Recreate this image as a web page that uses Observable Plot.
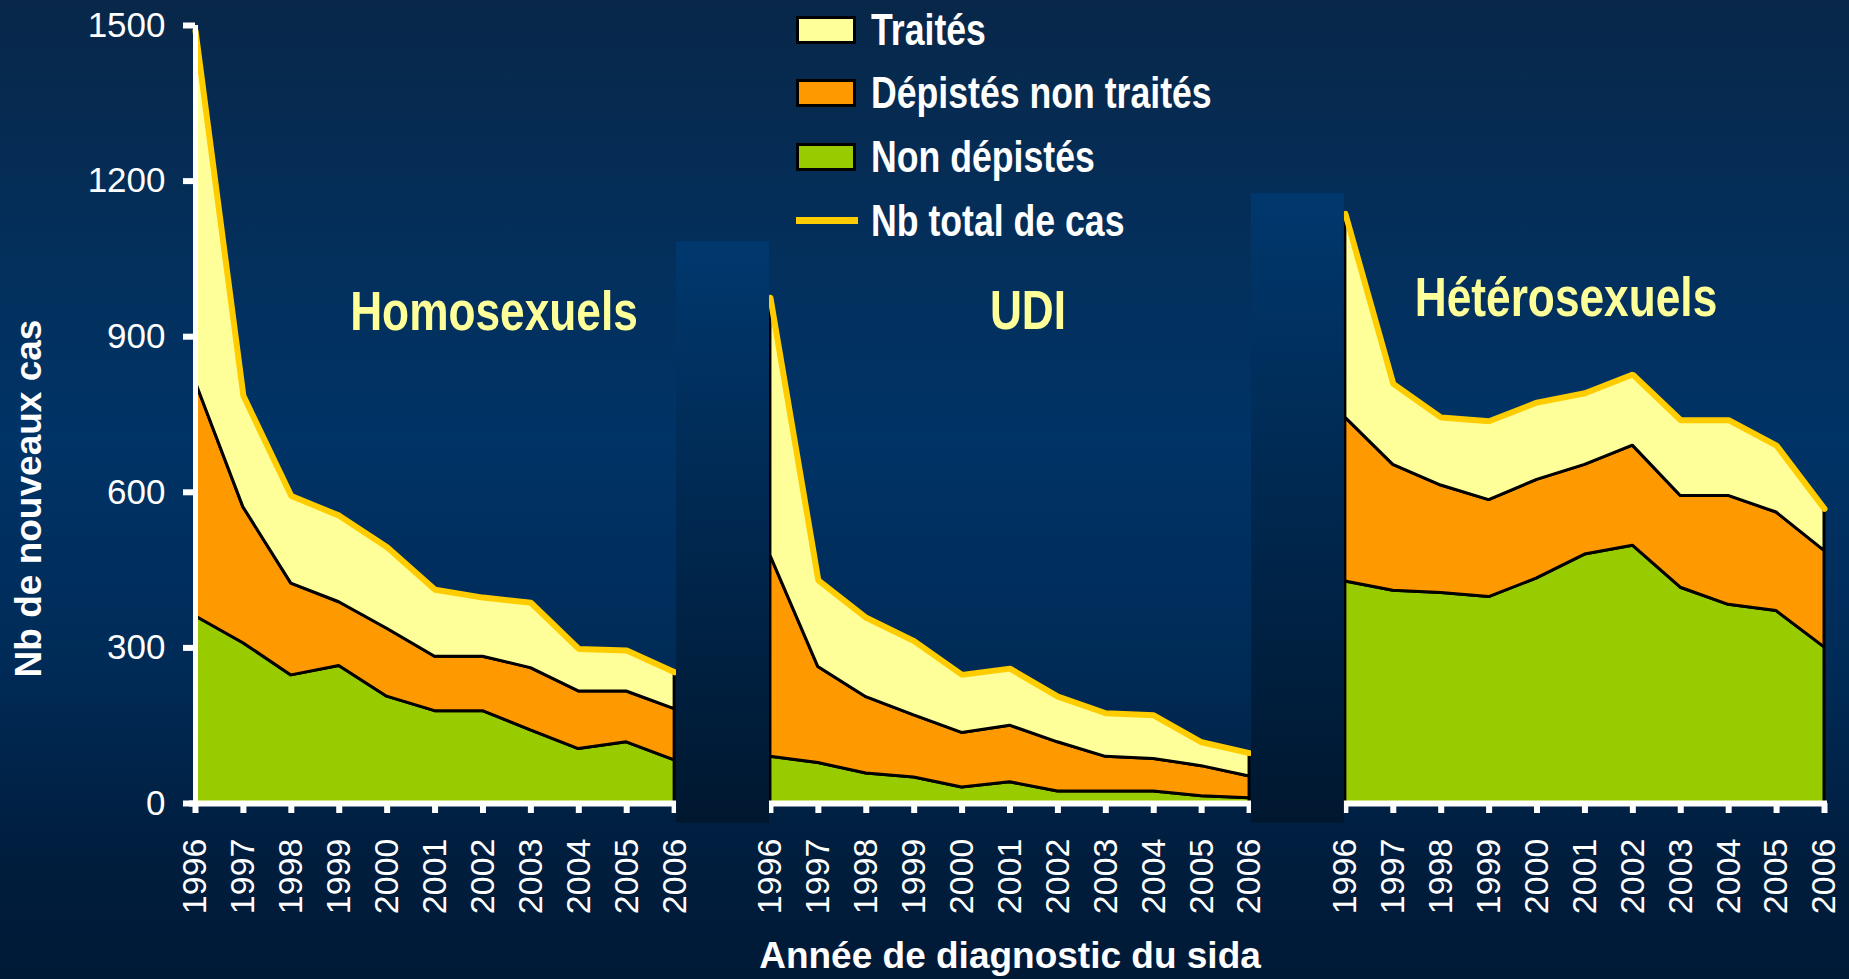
<!DOCTYPE html>
<html>
<head>
<meta charset="utf-8">
<script src="https://cdn.jsdelivr.net/npm/d3@7"></script>
<script src="https://cdn.jsdelivr.net/npm/@observablehq/plot@0.6"></script>
<style>
  html, body { margin: 0; padding: 0; }
  body {
    width: 1849px; height: 979px; overflow: hidden;
    background: linear-gradient(180deg, #082749 0%, #03305d 28%, #003366 45%, #002b57 68%, #001d3d 88%, #001a36 100%);
    font-family: "Liberation Sans", Arial, sans-serif;
  }
  #wrap { position: relative; width: 1849px; height: 979px; }
  #wrap svg { position: absolute; left: 0; top: 0; }
  .sw { position: absolute; box-sizing: border-box; border: 3px solid #000; width: 60px; height: 28px; left: 796px; }
  .swline { position: absolute; left: 796px; width: 62px; height: 7px; }
  .lt { position: absolute; left: 871px; font-size: 44px; line-height: 44px; font-weight: bold; color: #fff;
        white-space: nowrap; transform: scaleX(0.81); transform-origin: left center; }
  .gl { position: absolute; font-size: 56px; line-height: 56px; font-weight: bold; color: #ffff99;
        white-space: nowrap; transform: translateX(-50%) scaleX(0.79); }
</style>
</head>
<body>
<div id="wrap"></div>
<script>
// ---- data ----
const years = ["1996", "1997", "1998", "1999", "2000", "2001", "2002", "2003", "2004", "2005", "2006"];
const groups = ["Homosexuels", "UDI", "Hétérosexuels"];
const seriesNames = ["Non dépistés", "Dépistés non traités", "Traités"];
const totalName = "Nb total de cas";

const homoNonDepistes        = [361, 309, 247, 265, 206, 178, 178, 141, 105, 118, 83];
const homoDepistesNonTraites = [452, 262, 177, 123, 131, 105, 105, 120, 111, 98, 99];
const homoTraites            = [677, 215, 169, 167, 157, 129, 114, 126, 82, 79, 71];

const udiNonDepistes        = [90, 78, 58, 50, 31, 41, 23, 23, 23, 14, 10];
const udiDepistesNonTraites = [388, 185, 147, 120, 105, 109, 95, 67, 63, 58, 42];
const udiTraites            = [497, 167, 153, 143, 112, 110, 88, 84, 84, 46, 45];

const heteroNonDepistes        = [428, 410, 406, 398, 434, 480, 497, 416, 383, 371, 301];
const heteroDepistesNonTraites = [316, 243, 207, 187, 190, 173, 193, 177, 210, 190, 186];
const heteroTraites            = [393, 156, 131, 152, 149, 138, 137, 146, 146, 129, 81];

const yTicks = [0, 300, 600, 900, 1200, 1500];
const xTitle = "Année de diagnostic du sida";
const yTitle = "Nb de nouveaux cas";

const seriesColors = ["#99cc00", "#ff9900", "#ffff99"];
const totalColor = "#ffcc00";

// ---- build tables ----
const groupSeries = [
  [homoNonDepistes, homoDepistesNonTraites, homoTraites],
  [udiNonDepistes, udiDepistesNonTraites, udiTraites],
  [heteroNonDepistes, heteroDepistesNonTraites, heteroTraites]
];
const slot = years.length + 1; // one empty slot between groups
const rows = [];
const totals = [];
const tickPos = [];
const posYear = new Map();
groups.forEach((g, gi) => {
  years.forEach((yr, j) => {
    const pos = gi * slot + j;
    tickPos.push(pos);
    posYear.set(pos, yr);
    let sum = 0;
    seriesNames.forEach((s, si) => {
      const v = groupSeries[gi][si][j];
      sum += v;
      rows.push({group: g, year: yr, pos, series: s, key: g + "|" + s, value: v});
    });
    totals.push({group: g, year: yr, pos, total: sum});
  });
});
const gapSlots = [
  {pos: slot - 1, top: 1083},
  {pos: 2 * slot - 1, top: 1176}
];
const maxPos = groups.length * slot - 2;

const svg = Plot.plot({
  width: 1849,
  height: 979,
  marginLeft: 195,
  marginRight: 25,
  marginTop: 25,
  marginBottom: 176,
  x: {type: "linear", domain: [0, maxPos]},
  y: {domain: [0, 1500]},
  color: {domain: seriesNames, range: seriesColors},
  style: {background: "transparent", color: "white", fontFamily: "'Liberation Sans', Arial, sans-serif", overflow: "visible"},
  marks: [
    Plot.areaY(rows, {x: "pos", y: "value", z: "key", fill: "series", stroke: "black", strokeWidth: 3, strokeLinejoin: "miter"}),
    Plot.line(totals, {x: "pos", y: "total", z: "group", stroke: totalColor, strokeWidth: 6, strokeLinejoin: "miter"}),
    Plot.ruleY([0], {stroke: "white", strokeWidth: 6, insetLeft: -6, insetRight: -3}),
    Plot.ruleX([0], {y1: 0, y2: 1500, stroke: "white", strokeWidth: 5}),
    Plot.axisY({ticks: yTicks, tickFormat: d3.format("d"), tickSize: 12, tickPadding: 18, color: "white", strokeWidth: 6, fontSize: 35, label: null}),
    Plot.axisX({ticks: tickPos, tickFormat: p => posYear.get(p), tickRotate: -90, tickSize: 10, tickPadding: 25, color: "white", strokeWidth: 6, fontSize: 34, label: null}),
    Plot.rect(gapSlots, {x1: d => d.pos - 0.96, x2: d => d.pos + 0.98, y1: -38, y2: "top", fill: "url(#sepGrad)"}),
    Plot.text([yTitle], {frameAnchor: "left", textAnchor: "middle", lineAnchor: "middle", rotate: -90, dx: -166, dy: 84, fontSize: 37, fontWeight: "bold", fill: "white"}),
    Plot.text([xTitle], {frameAnchor: "bottom", textAnchor: "middle", lineAnchor: "middle", dy: 153, fontSize: 37, fontWeight: "bold", fill: "white"})
  ]
});

const defs = d3.select(svg).insert("defs", ":first-child");
const grad = defs.append("linearGradient").attr("id", "sepGrad").attr("x1", 0).attr("y1", 0).attr("x2", 0).attr("y2", 1);
grad.append("stop").attr("offset", "0%").attr("stop-color", "#00386e");
grad.append("stop").attr("offset", "100%").attr("stop-color", "#00172f");

const wrap = document.getElementById("wrap");
wrap.appendChild(svg);

// ---- legend (HTML overlay) ----
const legendOrder = [2, 1, 0];
const swTops = [16, 79, 143];
const textTops = [8, 71, 135, 199];
legendOrder.forEach((si, k) => {
  const sw = document.createElement("div");
  sw.className = "sw";
  sw.style.top = swTops[k] + "px";
  sw.style.background = seriesColors[si];
  wrap.appendChild(sw);
  const t = document.createElement("div");
  t.className = "lt";
  t.style.top = textTops[k] + "px";
  t.textContent = seriesNames[si];
  wrap.appendChild(t);
});
const ln = document.createElement("div");
ln.className = "swline";
ln.style.top = "217px";
ln.style.background = totalColor;
wrap.appendChild(ln);
const lt = document.createElement("div");
lt.className = "lt";
lt.style.top = textTops[3] + "px";
lt.textContent = totalName;
wrap.appendChild(lt);

// ---- group labels ----
const groupLabelPos = [[494, 283], [1028, 282], [1566, 269]];
groups.forEach((g, gi) => {
  const d = document.createElement("div");
  d.className = "gl";
  d.style.left = groupLabelPos[gi][0] + "px";
  d.style.top = groupLabelPos[gi][1] + "px";
  d.textContent = g;
  wrap.appendChild(d);
});
</script>
</body>
</html>
